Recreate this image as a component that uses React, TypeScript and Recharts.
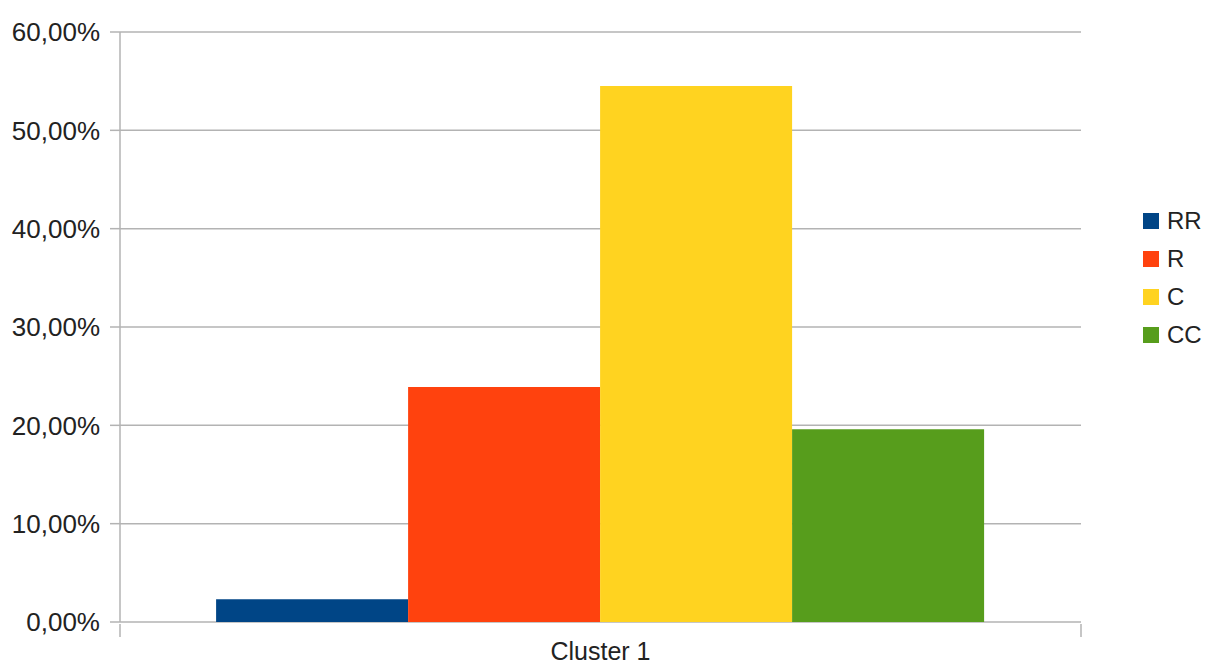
import React from "react";
import {
  BarChart,
  Bar,
  XAxis,
  YAxis,
  CartesianGrid,
  Legend,
} from "recharts";

const categories = ["Cluster 1"];
const rrValues = [2.32];
const rValues = [23.9];
const cValues = [54.5];
const ccValues = [19.6];
const yTicks = [0, 10, 20, 30, 40, 50, 60];

const series = [
  { key: "RR", values: rrValues, color: "#004586" },
  { key: "R", values: rValues, color: "#ff420e" },
  { key: "C", values: cValues, color: "#ffd320" },
  { key: "CC", values: ccValues, color: "#579d1c" },
];

const data = categories.map((name, i) => {
  const row: Record<string, string | number> = { name };
  series.forEach((s) => {
    row[s.key] = s.values[i];
  });
  return row;
});

const FONT = '"Liberation Sans", Arial, sans-serif';
const GRID = "#b3b3b3";
const TEXT = "#222";

const fmtPct = (v: number) => `${v.toFixed(2).replace(".", ",")}%`;

// category label plus the short tick marks at both ends of the band
function ClusterTick(props: any) {
  const { x, y, payload, width } = props;
  const half = typeof width === "number" ? width / 2 : payload.offset;
  return (
    <g>
      <line x1={x - half} x2={x - half} y1={y} y2={y + 13} stroke={GRID} strokeWidth={1.5} />
      <line x1={x + half} x2={x + half} y1={y} y2={y + 13} stroke={GRID} strokeWidth={1.5} />
      <text
        x={x}
        y={y + 36}
        textAnchor="middle"
        fontSize={25}
        fontFamily={FONT}
        fill={TEXT}
      >
        {payload.value}
      </text>
    </g>
  );
}

function SeriesLegend() {
  return (
    <div style={{ width: 125, paddingLeft: 62, boxSizing: "border-box" }}>
      {series.map((s) => (
        <div
          key={s.key}
          style={{ display: "flex", alignItems: "center", height: 38 }}
        >
          <span
            style={{
              width: 16,
              height: 16,
              background: s.color,
              display: "inline-block",
              marginRight: 8,
            }}
          />
          <span style={{ fontSize: 24, fontFamily: FONT, color: TEXT }}>
            {s.key}
          </span>
        </div>
      ))}
    </div>
  );
}

export default function App() {
  return (
    <div style={{ position: "absolute", left: 0, top: 0, background: "#fff" }}>
      <BarChart
        width={1206}
        height={666}
        data={data}
        margin={{ top: 32, right: 0, left: 0, bottom: 0 }}
        barCategoryGap="10%"
        barGap={0}
      >
        <CartesianGrid
          vertical={false}
          stroke={GRID}
          strokeWidth={1.5}
          yAxisId="left"
        />
        <XAxis
          dataKey="name"
          height={44}
          axisLine={false}
          tickLine={false}
          tickSize={0}
          tick={<ClusterTick />}
        />
        <YAxis
          yAxisId="left"
          width={120}
          domain={[0, 60]}
          ticks={yTicks}
          interval={0}
          tickFormatter={fmtPct}
          tickSize={10}
          tickMargin={10}
          tickLine={{ stroke: GRID, strokeWidth: 1.5 }}
          axisLine={{ stroke: GRID, strokeWidth: 1.5 }}
          tick={{ fontSize: 26, fontFamily: FONT, fill: TEXT }}
        />
        <YAxis
          yAxisId="right"
          orientation="right"
          width={0}
          domain={[0, 60]}
          tick={false}
          tickLine={false}
          axisLine={{ stroke: GRID, strokeWidth: 1.5 }}
        />
        <Legend
          layout="vertical"
          align="right"
          verticalAlign="middle"
          wrapperStyle={{ top: 202 }}
          content={<SeriesLegend />}
        />
        {series.map((s) => (
          <Bar
            key={s.key}
            yAxisId="left"
            dataKey={s.key}
            fill={s.color}
            isAnimationActive={false}
          />
        ))}
      </BarChart>
    </div>
  );
}
